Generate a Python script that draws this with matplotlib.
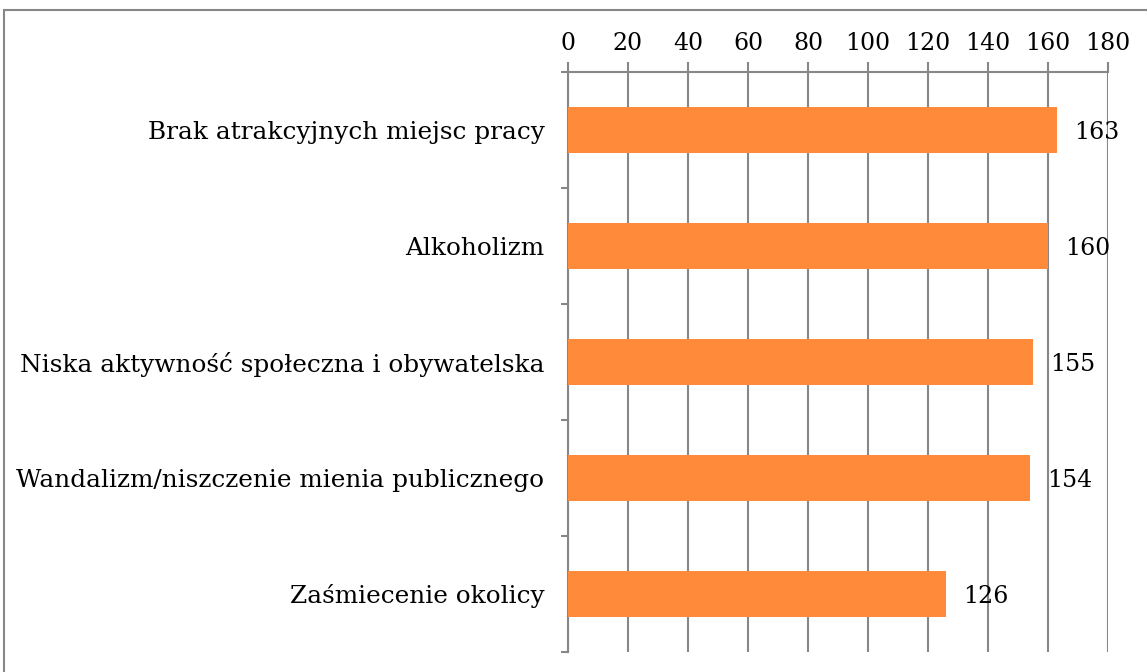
import matplotlib
matplotlib.use("Agg")
import matplotlib.pyplot as plt
from matplotlib.patches import Rectangle
from matplotlib.ticker import FixedLocator

categories = [
    "Brak atrakcyjnych miejsc pracy",
    "Alkoholizm",
    "Niska aktywność społeczna i obywatelska",
    "Wandalizm/niszczenie mienia publicznego",
    "Zaśmiecenie okolicy",
]
values = [163, 160, 155, 154, 126]
xticks = [0, 20, 40, 60, 80, 100, 120, 140, 160, 180]

plt.rcParams['font.family'] = ['DejaVu Serif']
GRAY = "#878787"
ORANGE = "#FF8B3A"
FS = 17

fig = plt.figure(figsize=(11.47, 6.72), dpi=100)
fig.patches.append(Rectangle((4/1147, -0.2), 1.5, 1.2 - 10/672, transform=fig.transFigure,
                             fill=False, edgecolor=GRAY, lw=1.5, clip_on=False))
ax = fig.add_axes([568/1147, 1 - 652/672, 540/1147, 580/672])

n = len(categories)
ypos = list(range(n))
ax.barh(ypos, values, height=0.4, color=ORANGE, zorder=3)
ax.set_xlim(0, 180)
ax.set_ylim(n - 0.5, -0.5)

ax.xaxis.tick_top()
ax.set_xticks(xticks)
ax.set_xticklabels([str(t) for t in xticks])
ax.tick_params(axis='x', direction='out', length=7, width=1.5, color=GRAY, pad=5, labelsize=FS)
ax.grid(axis='x', color=GRAY, lw=1.5, zorder=1)

ax.set_yticks(ypos)
ax.set_yticklabels(categories)
ax.tick_params(axis='y', which='major', length=0, pad=17, labelsize=17.8)
ax.yaxis.set_minor_locator(FixedLocator([i - 0.5 for i in range(n + 1)]))
ax.tick_params(axis='y', which='minor', direction='out', length=5, width=1.5, color=GRAY)

for s in ['right', 'bottom']:
    ax.spines[s].set_visible(False)
for s in ['left', 'top']:
    ax.spines[s].set_color(GRAY)
    ax.spines[s].set_linewidth(1.5)

for y, v in zip(ypos, values):
    ax.text(v + 5.8, y + 0.02, str(v), va='center', ha='left', fontsize=FS, zorder=4, clip_on=False)

fig.savefig("out.png", dpi=100)
